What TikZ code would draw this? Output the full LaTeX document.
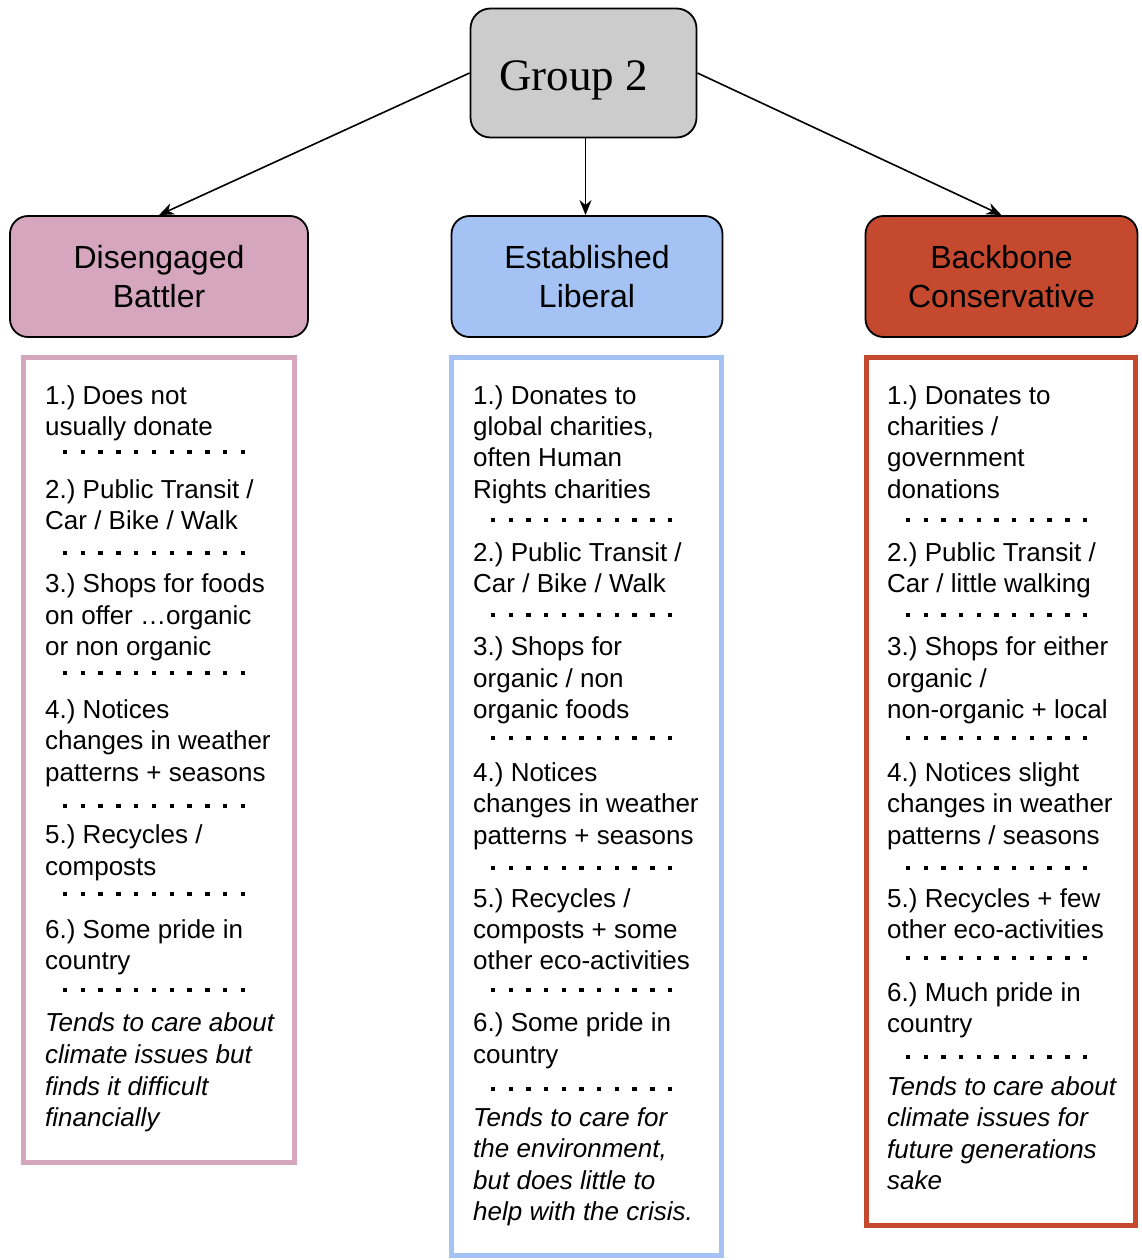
\documentclass[tikz,border=0pt]{standalone}
\usepackage{fontspec}
\setmainfont{Liberation Sans}
\newfontfamily\groupface{Liberation Serif}
\usetikzlibrary{arrows.meta}

\definecolor{battler}{HTML}{D5A6BD}
\definecolor{liberal}{HTML}{A4C2F4}
\definecolor{backbone}{HTML}{C5492F}
\definecolor{groupgray}{HTML}{CCCCCC}

\frenchspacing

\begin{document}
\begin{tikzpicture}[x=1pt,y=-1pt,
  headbox/.style={draw=black, line width=1.8pt, rounded corners=18pt,
    minimum height=121pt, align=center, inner sep=0pt,
    font=\fontsize{32}{39}\selectfont},
  listbox/.style={draw=#1, line width=5pt, fill=white, inner sep=0pt, anchor=north west},
  ln/.style={anchor=base west, inner sep=0pt, font=\fontsize{26}{31.5}\selectfont},
  itl/.style={anchor=base west, inner sep=0pt, font=\fontsize{26}{31.5}\selectfont\itshape},
  link/.style={line width=1.6pt, -{Stealth[length=15pt,width=12pt]}}]

\useasboundingbox (0,0) rectangle (1141,1260);

% top node
\node[draw=black, line width=1.8pt, rounded corners=20pt, fill=groupgray,
  minimum width=226pt, minimum height=129pt, inner sep=0pt,
  font=\groupface\fontsize{45}{50}\selectfont] (grp) at (583.5,73)
  {\raisebox{-18pt}[0pt][0pt]{Group 2}\hspace*{20pt}};

% the three segment headers
\node[headbox, fill=battler, minimum width=298pt] (dis) at (159,276.5) {Disengaged\\Battler};
\node[headbox, fill=liberal, minimum width=271pt] (est) at (587,276.5) {Established\\Liberal};
\node[headbox, fill=backbone, minimum width=272pt] (bac) at (1001.5,276.5) {Backbone\\Conservative};

\draw[link] (grp.west) -- (dis.north);
\draw[link] ([xshift=2pt]grp.south) -- ([xshift=2pt]grp.south |- est.north);
\draw[link] (grp.east) -- (bac.north);

% description panels
\node[listbox=battler, minimum width=271pt, minimum height=805pt] (pdis) at (21,355) {};
\node[listbox=liberal, minimum width=270pt, minimum height=898pt] (pest) at (449,355) {};
\node[listbox=backbone, minimum width=269pt, minimum height=868pt] (pbac) at (864,355) {};

% Disengaged Battler
\foreach \y/\t [count=\k] in {395/{1.) Does not}, 426/{usually donate},
  489/{2.) Public Transit /}, 520/{Car / Bike / Walk},
  583/{3.) Shops for foods}, 615/{on offer …organic}, 646/{or non organic},
  709/{4.) Notices}, 740/{changes in weather}, 772/{patterns + seasons},
  834/{5.) Recycles /}, 866/{composts},
  929/{6.) Some pride in}, 960/{country}}
  \node[ln] (d\k) at (45,\y+9) {\t};
\foreach \y/\t [count=\k] in {1022/{Tends to care about}, 1054/{climate issues but},
  1086/{finds it difficult}, 1117/{financially}}
  \node[itl] (dn\k) at (45,\y+9) {\t};
\foreach \y in {452,553,673,806,894,990}
  \foreach \i in {0,...,10}
    \fill (65+17.8*\i-2.2,\y-2.2) rectangle ++(4.4,4.4);

% Established Liberal
\foreach \y/\t [count=\k] in {395/{1.) Donates to}, 426/{global charities,},
  457/{often Human}, 489/{Rights charities},
  552/{2.) Public Transit /}, 583/{Car / Bike / Walk},
  646/{3.) Shops for}, 678/{organic / non}, 709/{organic foods},
  772/{4.) Notices}, 803/{changes in weather}, 835/{patterns + seasons},
  898/{5.) Recycles /}, 929/{composts + some}, 960/{other eco-activities},
  1022/{6.) Some pride in}, 1054/{country}}
  \node[ln] (e\k) at (473,\y+9) {\t};
\foreach \y/\t [count=\k] in {1117/{Tends to care for}, 1148/{the environment,},
  1180/{but does little to}, 1211/{help with the crisis.}}
  \node[itl] (en\k) at (473,\y+9) {\t};
\foreach \y in {520,615,738,868,990,1089}
  \foreach \i in {0,...,10}
    \fill (493+17.7*\i-2.2,\y-2.2) rectangle ++(4.4,4.4);

% Backbone Conservative
\foreach \y/\t [count=\k] in {395/{1.) Donates to}, 426/{charities /},
  457/{government}, 489/{donations},
  552/{2.) Public Transit /}, 583/{Car / little walking},
  646/{3.) Shops for either}, 678/{organic /}, 709/{non-organic + local},
  772/{4.) Notices slight}, 803/{changes in weather}, 835/{patterns / seasons},
  898/{5.) Recycles + few}, 929/{other eco-activities},
  992/{6.) Much pride in}, 1023/{country}}
  \node[ln] (b\k) at (887,\y+9) {\t};
\foreach \y/\t [count=\k] in {1086/{Tends to care about}, 1117/{climate issues for},
  1149/{future generations}, 1180/{sake}}
  \node[itl] (bn\k) at (887,\y+9) {\t};
\foreach \y in {520,615,738,868,958,1057}
  \foreach \i in {0,...,10}
    \fill (908+17.7*\i-2.2,\y-2.2) rectangle ++(4.4,4.4);

\end{tikzpicture}
\end{document}
